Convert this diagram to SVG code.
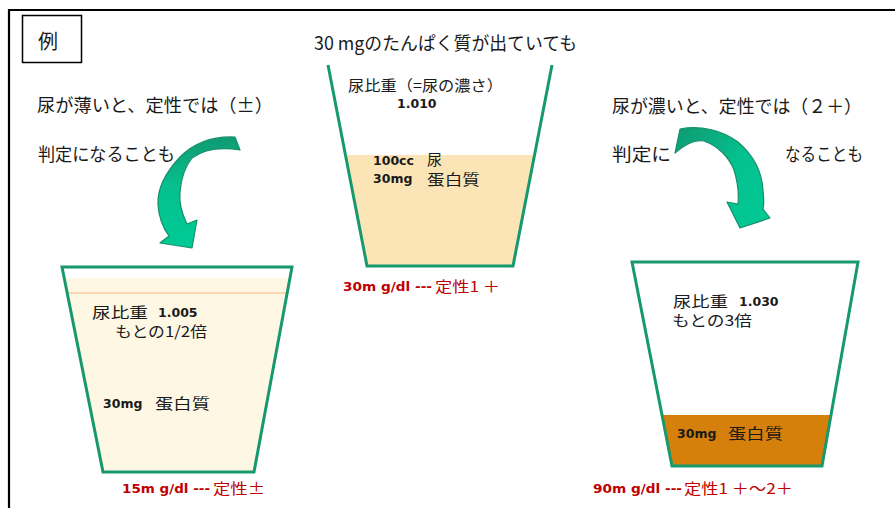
<svg xmlns="http://www.w3.org/2000/svg" width="895" height="508" viewBox="0 0 895 508">
  <style>
    .jp { font-family: 'Noto Sans CJK JP', 'Noto Sans', sans-serif; fill: #1a1a1a; }
    .num { font-family: 'DejaVu Sans', 'Noto Sans CJK JP', sans-serif; font-weight: bold; font-size: 12.5px; fill: #1a1a1a; }
    .red { fill: #c00000; }
    .cup { fill: none; stroke: #17996e; stroke-width: 3; stroke-linejoin: miter; }
    .arrow { stroke: #178f6a; stroke-width: 1.2; stroke-linejoin: round; }
  </style>
  <defs>
    <linearGradient id="gradLeft" x1="0" y1="0" x2="0" y2="1">
      <stop offset="0" stop-color="#0f9a72"/>
      <stop offset="0.45" stop-color="#05c18f"/>
      <stop offset="1" stop-color="#00ca95"/>
    </linearGradient>
    <linearGradient id="gradRight" x1="0" y1="0" x2="1" y2="1">
      <stop offset="0" stop-color="#0f9a72"/>
      <stop offset="0.5" stop-color="#05c18f"/>
      <stop offset="1" stop-color="#00ca95"/>
    </linearGradient>
  </defs>

  <rect width="895" height="508" fill="#ffffff"/>

  <!-- outer frame -->
  <g id="frame" stroke="#000" stroke-width="2.2" fill="none">
    <path d="M9 508 V10 H895"/>
  </g>

  <!-- example label -->
  <g id="label-example">
    <rect x="22.5" y="15.5" width="59" height="47" fill="none" stroke="#000" stroke-width="1.5"/>
    <text class="jp" x="38" y="49" font-size="20">例</text>
  </g>

  <!-- heading -->
  <g id="title">
    <text class="jp" x="314" y="50" font-size="18.5" textLength="263" lengthAdjust="spacingAndGlyphs">30 mgのたんぱく質が出ていても</text>
  </g>

  <!-- left notes -->
  <g id="notes-left">
    <text class="jp" x="37" y="112" font-size="18" textLength="236" lengthAdjust="spacingAndGlyphs">尿が薄いと、定性では（±）</text>
    <text class="jp" x="38" y="161" font-size="18" textLength="137" lengthAdjust="spacingAndGlyphs">判定になることも</text>
  </g>

  <!-- right notes -->
  <g id="notes-right">
    <text class="jp" x="612" y="113" font-size="18" textLength="250" lengthAdjust="spacingAndGlyphs">尿が濃いと、定性では（２＋）</text>
    <text class="jp" x="612" y="161" font-size="18" textLength="59" lengthAdjust="spacingAndGlyphs">判定に</text>
    <text class="jp" x="785" y="161" font-size="18" textLength="78" lengthAdjust="spacingAndGlyphs">なることも</text>
  </g>

  <!-- centre cup: original urine -->
  <g id="cup-center">
    <polygon points="345.5,155 534.5,155 513,266 367,266" fill="#fbe5b6"/>
    <polyline class="cup" points="328,65 367,266 513,266 552,65"/>
    <text class="jp" x="348" y="91" font-size="15" textLength="155" lengthAdjust="spacingAndGlyphs">尿比重（=尿の濃さ）</text>
    <text class="num" x="397" y="108">1.010</text>
    <text class="num" x="373" y="165">100cc</text>
    <text class="jp" x="427" y="164.5" font-size="15">尿</text>
    <text class="num" x="373" y="183">30mg</text>
    <text class="jp" x="427" y="184.5" font-size="15" textLength="53" lengthAdjust="spacingAndGlyphs">蛋白質</text>
    <text class="num red" x="343" y="291" font-size="12.5" textLength="89" lengthAdjust="spacingAndGlyphs">30m g/dl ---</text>
    <text class="jp red" x="435" y="292" font-size="15" textLength="65" lengthAdjust="spacingAndGlyphs">定性1 ＋</text>
  </g>

  <!-- left cup: diluted urine -->
  <g id="cup-left">
    <polygon points="64.2,278 290,278 254,472 103,472" fill="#fef7e4"/>
    <line x1="67.2" y1="293" x2="287.2" y2="293" stroke="#f9cba6" stroke-width="1.5"/>
    <polygon class="cup" points="62,267 292,267 254,472 103,472"/>
    <text class="jp" x="92" y="317.5" font-size="15" textLength="56" lengthAdjust="spacingAndGlyphs">尿比重</text>
    <text class="num" x="158" y="317">1.005</text>
    <text class="jp" x="115" y="336.5" font-size="15" textLength="92" lengthAdjust="spacingAndGlyphs">もとの1/2倍</text>
    <text class="num" x="103" y="408">30mg</text>
    <text class="jp" x="155" y="409" font-size="15" textLength="55" lengthAdjust="spacingAndGlyphs">蛋白質</text>
    <text class="num red" x="122" y="493" font-size="12.5" textLength="88" lengthAdjust="spacingAndGlyphs">15m g/dl ---</text>
    <text class="jp red" x="213" y="494" font-size="15" textLength="52" lengthAdjust="spacingAndGlyphs">定性±</text>
  </g>

  <!-- right cup: concentrated urine -->
  <g id="cup-right">
    <polygon points="662,415 831,415 822,466 672,466" fill="#d4800a"/>
    <polygon class="cup" points="632,262 858,262 822,466 672,466"/>
    <text class="jp" x="673" y="306.5" font-size="15" textLength="55" lengthAdjust="spacingAndGlyphs">尿比重</text>
    <text class="num" x="739" y="306">1.030</text>
    <text class="jp" x="672" y="326" font-size="15" textLength="80" lengthAdjust="spacingAndGlyphs">もとの3倍</text>
    <text class="num" x="677" y="438">30mg</text>
    <text class="jp" x="728" y="439" font-size="15" textLength="55" lengthAdjust="spacingAndGlyphs">蛋白質</text>
    <text class="num red" x="593" y="493" font-size="12.5" textLength="89" lengthAdjust="spacingAndGlyphs">90m g/dl ---</text>
    <text class="jp red" x="684" y="494" font-size="15" textLength="109" lengthAdjust="spacingAndGlyphs">定性1 ＋～2＋</text>
  </g>

  <!-- curved arrows -->
  <g id="connectors">
    <path class="arrow" fill="url(#gradLeft)" d="M235 137 C212 136 193 144 180 157 C166 172 157 188 158 205 C159 218 163 228 169 236 L160 243 L192 248 L197 220 L187 224 C182 214 179 203 180 192 C181 180 184 168 192 158 C204 149 222 147 240 150 Z"/>
    <path class="arrow" fill="url(#gradRight)" d="M680 129 C700 125 722 130 738 142 C753 155 762 172 763 190 C764 200 764 206 763 209 L770 218 L740 228 L727 202 L738 204 C739 194 738 183 734 170 C729 157 718 146 704 141 C694 139 684 145 675 153 Z"/>
  </g>
</svg>
